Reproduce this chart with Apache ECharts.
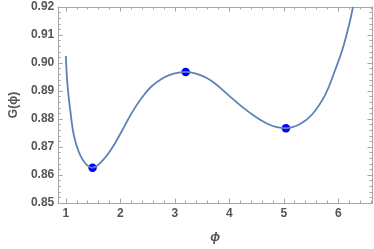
<!DOCTYPE html>
<html><head><meta charset="utf-8">
<script src="https://cdn.jsdelivr.net/npm/echarts@6/dist/echarts.min.js"></script>
<style>html,body{margin:0;padding:0;background:#fff}#c{width:374px;height:249px}</style>
</head><body><div id="c"></div>
<script>
// G(phi) curve
const curvePhi = [1.0, 1.03, 1.09, 1.147, 1.236, 1.355, 1.49, 1.68, 1.86, 2.03, 2.21, 2.39, 2.57, 2.80, 2.98, 3.20, 3.39, 3.57, 3.75, 3.98, 4.22, 4.46, 4.69, 4.87, 5.04, 5.29, 5.52, 5.76, 5.93, 6.08, 6.20, 6.27];
const curveG   = [0.9025, 0.8921, 0.8816, 0.8741, 0.8683, 0.8642, 0.8626, 0.8653, 0.8700, 0.8758, 0.8822, 0.8875, 0.8916, 0.8948, 0.8962, 0.8968, 0.8962, 0.8948, 0.8925, 0.8886, 0.8846, 0.8811, 0.8784, 0.8771, 0.8767, 0.8781, 0.8816, 0.8886, 0.8968, 0.9050, 0.9137, 0.9200];
// extremum markers
const markPhi = [1.49, 3.20, 5.04];
const markG   = [0.8626, 0.8968, 0.8767];
// ticks
const xTicks = [1, 2, 3, 4, 5, 6];
const yTicks = [0.85, 0.86, 0.87, 0.88, 0.89, 0.90, 0.91, 0.92];
const xRange = [0.86, 6.62];
const yRange = [0.85, 0.92];

const xMinor = [], yMinor = [];
for (let i = 5; i <= 33; i++) { const v = +(i * 0.2).toFixed(2); if (v >= xRange[0] && v <= xRange[1] && Math.abs(v - Math.round(v)) > 1e-6) xMinor.push(v); }
for (let i = 425; i <= 460; i++) { const v = +(i * 0.002).toFixed(3); if (Math.abs(v * 100 - Math.round(v * 100)) > 1e-6) yMinor.push(v); }

const frame = '#a6a6a6';
const lbl = { color: '#555', fontFamily: 'Liberation Sans', fontSize: 12, fontWeight: 'bold' };

function xAx(pos, vals, len, labels, extra) {
  return Object.assign({
    type: 'value', position: pos, min: xRange[0], max: xRange[1],
    axisLine: { show: true, onZero: false, lineStyle: { color: frame, width: 1 } },
    axisTick: { show: true, inside: true, length: len, customValues: vals, lineStyle: { color: frame } },
    axisLabel: labels ? Object.assign({ show: true, margin: 5, customValues: vals }, lbl) : { show: false },
    splitLine: { show: false }
  }, extra || {});
}
function yAx(pos, vals, len, labels, extra) {
  return Object.assign({
    type: 'value', position: pos, min: yRange[0], max: yRange[1],
    axisLine: { show: true, onZero: false, lineStyle: { color: frame, width: 1 } },
    axisTick: { show: true, inside: true, length: len, customValues: vals, lineStyle: { color: frame } },
    axisLabel: labels ? Object.assign({ show: true, margin: 4, customValues: vals, formatter: v => v.toFixed(2) }, lbl) : { show: false },
    splitLine: { show: false }
  }, extra || {});
}

const chart = echarts.init(document.getElementById('c'), null, { renderer: 'canvas' });
chart.setOption({
  animation: false,
  grid: { left: 47, right: 2, top: 7, bottom: 41 },
  xAxis: [
    xAx('bottom', xTicks, 4.5, true, { name: 'ϕ', nameLocation: 'middle', nameGap: 28, nameTextStyle: { color: '#555', fontFamily: 'Liberation Sans', fontSize: 13, fontStyle: 'italic', fontWeight: 'bold' } }),
    xAx('bottom', xMinor, 2.5, false),
    xAx('top', xTicks, 4.5, false),
    xAx('top', xMinor, 2.5, false)
  ],
  yAxis: [
    yAx('left', yTicks, 4.5, true, { name: 'G(ϕ)', nameLocation: 'middle', nameGap: 35, nameRotate: 90, nameTextStyle: { color: '#555', fontFamily: 'Liberation Sans', fontSize: 12, fontWeight: 'bold' } }),
    yAx('left', yMinor, 2.5, false),
    yAx('right', yTicks, 4.5, false),
    yAx('right', yMinor, 2.5, false)
  ],
  series: [
    { type: 'line', xAxisIndex: 0, yAxisIndex: 0, data: curvePhi.map((x, i) => [x, curveG[i]]), smooth: 0.4, showSymbol: false, clip: true,
      lineStyle: { color: '#5E81B5', width: 1.8 } },
    { type: 'scatter', xAxisIndex: 0, yAxisIndex: 0, data: markPhi.map((x, i) => [x, markG[i]]), symbolSize: 8.5,
      itemStyle: { color: '#0000FF', opacity: 1 } }
  ]
});
</script></body></html>
